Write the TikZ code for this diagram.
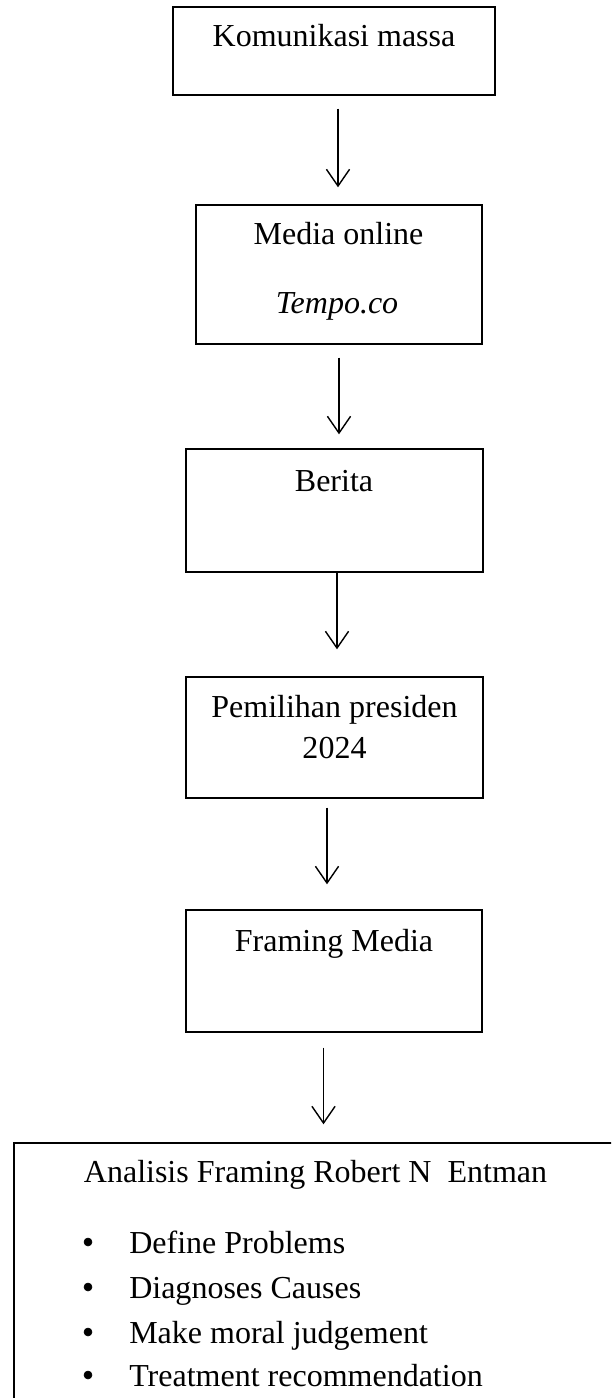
\documentclass[tikz,border=0pt]{standalone}
\usepackage{fontspec}
\setmainfont{Liberation Serif}
\usetikzlibrary{arrows, arrows.meta, fit}

\begin{document}
\begin{tikzpicture}[x=0.025cm, y=-0.025cm, >={Straight Barb[length=4.2mm, width=5.8mm]}]
	\fontsize{22.76}{27.3}\selectfont
	\tikzset{
		kotak/.style={draw, line width=1pt, inner sep=0pt},
		teks/.style={anchor=base, inner sep=0pt},
		panah/.style={->, line width=1pt},
	}
	\useasboundingbox (0,0) rectangle (611,1398);
	\clip (0,0) rectangle (611,1398);

	% kotak-kotak alur
	\node[kotak, fit={(173,7) (495,95)}] (komunikasi) {};
	\node[kotak, fit={(196,205) (482,344)}] (media) {};
	\node[kotak, fit={(186,449) (483,572)}] (berita) {};
	\node[kotak, fit={(186,677) (483,798)}] (pilpres) {};
	\node[kotak, fit={(186,910) (482,1032)}] (framing) {};
	\node[kotak, fit={(14,1143) (620,1420)}] (analisis) {};

	% teks
	\node[teks] (tkom) at (334,47) {Komunikasi massa};
	\node[teks] (tmedia) at (338.5,245) {Media online};
	\node[teks] (ttempo) at (337,314) {\itshape Tempo.co};
	\node[teks] (tberita) at (334,491) {Berita};
	\node[teks] (tpil) at (334.5,717) {Pemilihan presiden};
	\node[teks] (ttahun) at (334.5,758) {2024};
	\node[teks] (tframing) at (334,951) {Framing Media};
	\node[teks] (tanalisis) at (315.5,1182) {Analisis Framing Robert N\ \ Entman};

	% butir-butir
	\node[teks, anchor=base west] (bdefine) at (129,1253) {Define Problems};
	\node[teks, anchor=base west] (bdiagnose) at (129,1298) {Diagnoses Causes};
	\node[teks, anchor=base west] (bmoral) at (129,1343) {Make moral judgement};
	\node[teks, anchor=base west] (btreat) at (129,1386) {Treatment recommendation};
	\filldraw[black] (88,1242) circle[radius=0.1cm];
	\filldraw[black] (88,1287) circle[radius=0.1cm];
	\filldraw[black] (88,1332) circle[radius=0.1cm];
	\filldraw[black] (88,1375) circle[radius=0.1cm];

	% panah
	\coordinate (x1) at (338,0);
	\coordinate (x2) at (339,0);
	\coordinate (x3) at (337,0);
	\coordinate (x4) at (327,0);
	\coordinate (x5) at (323.5,0);
	\draw[panah, shorten <=0.325cm, shorten >=0.425cm] (komunikasi.south -| x1) -- (media.north -| x1);
	\draw[panah, shorten <=0.325cm, shorten >=0.35cm] (media.south -| x2) -- (berita.north -| x2);
	\draw[panah, shorten >=0.675cm] (berita.south -| x3) -- (pilpres.north -| x3);
	\draw[panah, shorten <=0.225cm, shorten >=0.625cm] (pilpres.south -| x4) -- (framing.north -| x4);
	\draw[panah, shorten <=0.375cm, shorten >=0.45cm] (framing.south -| x5) -- (analisis.north -| x5);
\end{tikzpicture}
\end{document}
